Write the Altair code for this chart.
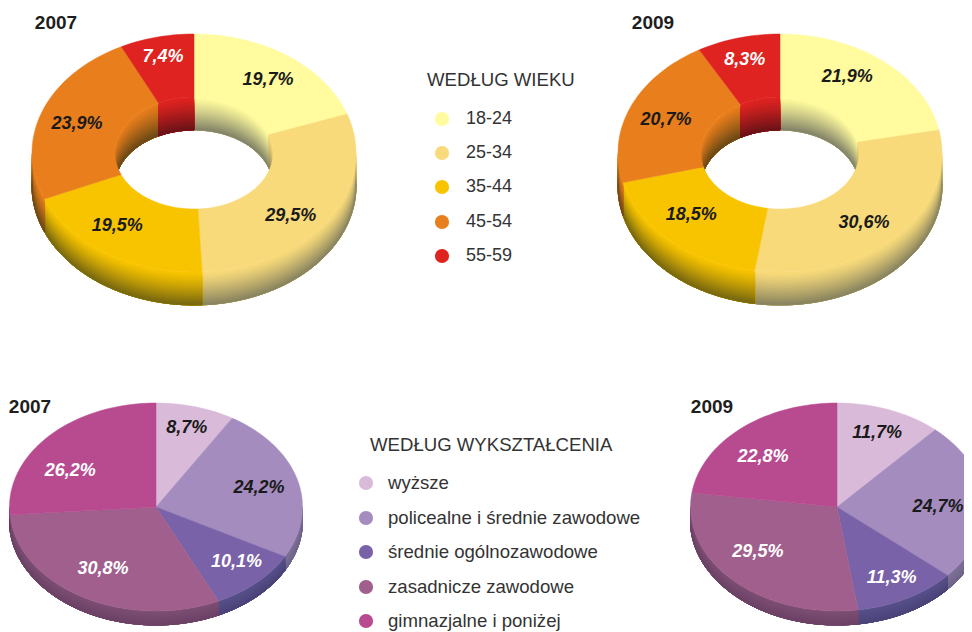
import math
import altair as alt

# ---- values ----
YEARS = ["2007", "2009"]
AGE_GROUPS = ["18-24", "25-34", "35-44", "45-54", "55-59"]
AGE_2007 = [19.7, 29.5, 19.5, 23.9, 7.4]
AGE_2009 = [21.9, 30.6, 18.5, 20.7, 8.3]
EDU_GROUPS = ["wyższe", "policealne i średnie zawodowe", "średnie ogólnozawodowe",
              "zasadnicze zawodowe", "gimnazjalne i poniżej"]
EDU_2007 = [8.7, 24.2, 10.1, 30.8, 26.2]
EDU_2009 = [11.7, 24.7, 11.3, 29.5, 22.8]
AGE_TITLE = "WEDŁUG WIEKU"
EDU_TITLE = "WEDŁUG WYKSZTAŁCENIA"

# ---- styles ----
AGE_FACE = ["#FFFB9E", "#F8DA7A", "#F8C400", "#E87E1C", "#DE2320"]
AGE_DARK = ["#86876A", "#8B8660", "#7A6A10", "#6E4A16", "#6E1318"]
EDU_FACE = ["#D9BAD8", "#A48DBE", "#7A62A8", "#A05F8C", "#B84A90"]
EDU_WALL_TOP = ["#A98FA8", "#7E7198", "#57508A", "#7C4E74", "#8C3870"]
EDU_WALL_BOT = ["#998098", "#6F6488", "#4A4478", "#6C4266", "#7C3062"]
AGE_INK = ["#1A1A1A", "#1A1A1A", "#1A1A1A", "#1A1A1A", "#FFFFFF"]
EDU_INK = ["#1A1A1A", "#1A1A1A", "#FFFFFF", "#FFFFFF", "#FFFFFF"]
FONT = "Liberation Sans"
BANDS = 16

# ---- layout: centre, radii, wall depth, label ring and label nudges ----
DONUTS = [
    dict(vals=AGE_2007, cx=194, cy=153, nudge=[(3.5, 0), (-4, 13), (-12, -2.5), (-3, 2), (-3, -9)]),
    dict(vals=AGE_2009, cx=780, cy=153, nudge=[(-10, -7), (-3.5, 8), (-7, -4), (-2, 2), (-4, -7)]),
]
PIES = [
    dict(vals=EDU_2007, cx=156, cy=507, nudge=[(5, -14), (11, -1), (15, 6), (-5, 4), (-16, 10)]),
    dict(vals=EDU_2009, cx=837, cy=507, nudge=[(6, -11), (6, 4), (9, 12), (-12, -3), (-11.5, 1)]),
]
D_RX, D_RY, D_IRX, D_IRY, D_DEPTH, D_RING = 162, 119, 79, 56, 33, 0.75
P_RX, P_RY, P_DEPTH, P_RING = 146.5, 104, 14, 0.65


def mix(c1, c2, f):
    a = [int(c1[i:i + 2], 16) for i in (1, 3, 5)]
    b = [int(c2[i:i + 2], 16) for i in (1, 3, 5)]
    return "#%02X%02X%02X" % tuple(round(x + (y - x) * f) for x, y in zip(a, b))


def arc(cx, cy, rx, ry, a, b, off=0.0):
    n = max(2, int(abs(b - a) / 2) + 1)
    pts = []
    for i in range(n + 1):
        t = math.radians(a + (b - a) * i / n)
        pts.append([cx + rx * math.sin(t), cy - ry * math.cos(t) + off])
    return pts


def poly(pts, fill):
    return {"type": "Feature", "fill": fill,
            "geometry": {"type": "Polygon", "coordinates": [pts + [pts[0]]]}}


def spans(vals):
    c, out = 0.0, []
    for v in vals:
        out.append((c * 3.6, (c + v) * 3.6))
        c += v
    return out


def wall(cx, cy, rx, ry, a, b, depth, top, bottom, feats):
    if b <= a:
        return
    for k in range(BANDS):
        off = depth * k / BANDS
        col = mix(top, bottom, (k / (BANDS - 1)) ** 1.2)
        pts = arc(cx, cy, rx, ry, a, b, off) + arc(cx, cy, rx, ry, b, a, depth)
        feats.append(poly(pts, col))


features, labels = [], []

for d in DONUTS:
    sp = spans(d["vals"])
    # inner wall (back half of the hole)
    for (a, b), f, k in zip(sp, AGE_FACE, AGE_DARK):
        wall(d["cx"], d["cy"], D_IRX, D_IRY, max(a, 0), min(b, 90), D_DEPTH, f, k, features)
        wall(d["cx"], d["cy"], D_IRX, D_IRY, max(a, 270), min(b, 360), D_DEPTH, f, k, features)
    # outer wall (front half)
    for (a, b), f, k in zip(sp, AGE_FACE, AGE_DARK):
        wall(d["cx"], d["cy"], D_RX, D_RY, max(a, 90), min(b, 270), D_DEPTH, f, k, features)
    # top face
    for (a, b), f in zip(sp, AGE_FACE):
        features.append(poly(arc(d["cx"], d["cy"], D_RX, D_RY, a, b)
                             + arc(d["cx"], d["cy"], D_IRX, D_IRY, b, a), f))
    for (a, b), v, ink, (nx, ny) in zip(sp, d["vals"], AGE_INK, d["nudge"]):
        m = math.radians((a + b) / 2)
        labels.append({"x": d["cx"] + D_RING * D_RX * math.sin(m) + nx,
                       "y": d["cy"] - D_RING * D_RY * math.cos(m) + ny,
                       "t": f"{v:.1f}%".replace(".", ","), "ink": ink})

for d in PIES:
    sp = spans(d["vals"])
    for (a, b), top, bot in zip(sp, EDU_WALL_TOP, EDU_WALL_BOT):
        wall(d["cx"], d["cy"], P_RX, P_RY, max(a, 90), min(b, 270), P_DEPTH, top, bot, features)
    for (a, b), f in zip(sp, EDU_FACE):
        features.append(poly([[d["cx"], d["cy"]]] + arc(d["cx"], d["cy"], P_RX, P_RY, a, b), f))
    for (a, b), v, ink, (nx, ny) in zip(sp, d["vals"], EDU_INK, d["nudge"]):
        m = math.radians((a + b) / 2)
        labels.append({"x": d["cx"] + P_RING * P_RX * math.sin(m) + nx,
                       "y": d["cy"] - P_RING * P_RY * math.cos(m) + ny,
                       "t": f"{v:.1f}%".replace(".", ","), "ink": ink})

titles = [
    {"x": 56, "y": 23, "t": YEARS[0]}, {"x": 653, "y": 23, "t": YEARS[1]},
    {"x": 30, "y": 407, "t": YEARS[0]}, {"x": 712, "y": 407, "t": YEARS[1]},
]
legend_heads = [{"x": 427, "y": 80, "t": AGE_TITLE}, {"x": 370, "y": 445, "t": EDU_TITLE}]
AGE_ROWS = [119, 153, 187, 222, 256]
EDU_ROWS = [483, 518, 552, 587, 621]
age_text = [{"x": 466, "y": y, "t": t} for y, t in zip(AGE_ROWS, AGE_GROUPS)]
edu_text = [{"x": 388, "y": y, "t": t} for y, t in zip(EDU_ROWS, EDU_GROUPS)]
legend_dots = ([{"x": 442, "y": y, "c": c} for y, c in zip(AGE_ROWS, AGE_FACE)]
               + [{"x": 366, "y": y, "c": c} for y, c in zip(EDU_ROWS, EDU_FACE)])

proj = alt.Projection(type="identity", scale=1, translate=[-8, -8])
pos = dict(longitude="x:Q", latitude="y:Q")

shapes = alt.Chart(alt.Data(values=features)).mark_geoshape(strokeWidth=0.5).encode(
    fill=alt.Fill("fill:N", scale=None), stroke=alt.Stroke("fill:N", scale=None)
).project(**proj.to_dict())

pct = alt.Chart(alt.Data(values=labels)).mark_text(
    font=FONT, fontSize=18, fontWeight="bold", fontStyle="italic", baseline="middle", align="center"
).encode(text="t:N", color=alt.Color("ink:N", scale=None), **pos).project(**proj.to_dict())

year = alt.Chart(alt.Data(values=titles)).mark_text(
    font=FONT, fontSize=19, fontWeight="bold", baseline="middle", align="center", color="#1E1E1E"
).encode(text="t:N", **pos).project(**proj.to_dict())

heads = alt.Chart(alt.Data(values=legend_heads)).mark_text(
    font=FONT, fontSize=18.6, baseline="middle", align="left", color="#333333"
).encode(text="t:N", **pos).project(**proj.to_dict())

age_items = alt.Chart(alt.Data(values=age_text)).mark_text(
    font=FONT, fontSize=18, baseline="middle", align="left", color="#333333"
).encode(text="t:N", **pos).project(**proj.to_dict())

edu_items = alt.Chart(alt.Data(values=edu_text)).mark_text(
    font=FONT, fontSize=18.6, baseline="middle", align="left", color="#333333"
).encode(text="t:N", **pos).project(**proj.to_dict())

dots = alt.Chart(alt.Data(values=legend_dots)).mark_circle(size=201, opacity=1).encode(
    color=alt.Color("c:N", scale=None), **pos
).project(**proj.to_dict())

chart = alt.layer(shapes, pct, year, heads, age_items, edu_items, dots).properties(
    width=956, height=624, padding=0,
    autosize=alt.AutoSizeParams(type="none"), background="white",
).configure_view(stroke=None)

chart.save("out.html", embed_options={"renderer": "svg", "actions": False})
